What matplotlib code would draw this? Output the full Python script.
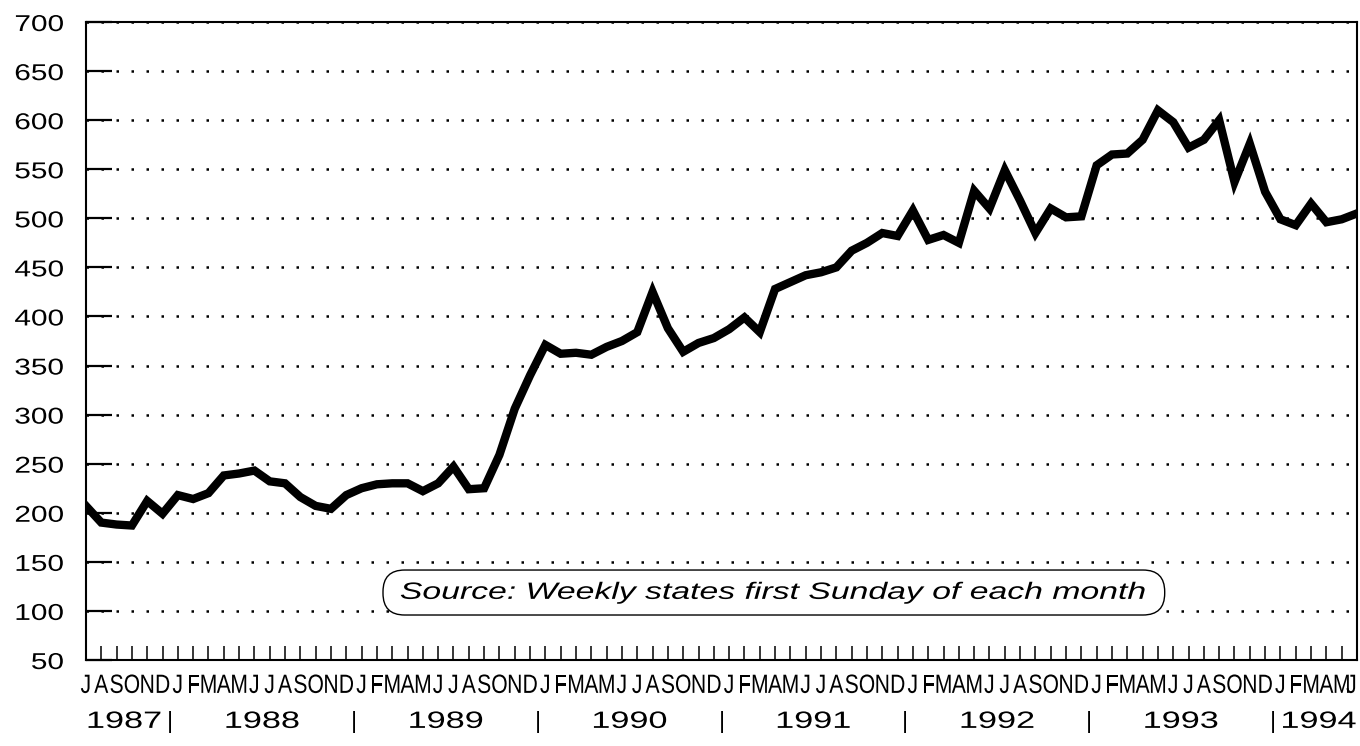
import matplotlib
matplotlib.use("Agg")
import matplotlib.pyplot as plt
import matplotlib.patheffects as pe
from matplotlib.transforms import Affine2D, blended_transform_factory
from matplotlib.patches import FancyBboxPatch
import pandas as pd

# monthly figures, July 1987 .. June 1994
months = pd.date_range("1987-07-01", periods=84, freq="MS")
month_letters = [m.strftime("%b")[0] for m in months]
values = [
    207, 190, 188, 187, 212, 199, 218, 214, 220, 238, 240, 243,   # 87/88
    232, 230, 216, 207, 204, 218, 225, 229, 230, 230, 222, 230,   # 88/89
    247, 224, 225, 259, 306, 340, 371, 362, 363, 361, 369, 375,   # 89/90
    384, 425, 388, 364, 373, 378, 387, 399, 384, 428, 435, 442,   # 90/91
    445, 450, 467, 475, 485, 482, 508, 478, 483, 475, 528, 510,   # 91/92
    549, 518, 485, 510, 501, 502, 554, 565, 566, 580, 610, 598,   # 92/93
    572, 580, 600, 537, 576, 527, 499, 493, 515, 496, 499, 505,   # 93/94
]
years = ["1987", "1988", "1989", "1990", "1991", "1992", "1993", "1994"]
y_ticks = list(range(50, 701, 50))
note = "Source: Weekly states first Sunday of each month"

plt.rcParams["font.family"] = ["Liberation Sans", "DejaVu Sans"]


class Stretch(pe.AbstractPathEffect):
    # widen/narrow glyphs horizontally around an anchor (0 left, .5 mid, 1 right)
    def __init__(self, sx, anchor=0.5):
        super().__init__()
        self.sx = sx
        self.anchor = anchor

    def draw_path(self, renderer, gc, tpath, affine, rgbFace=None):
        ext = tpath.get_extents()
        cx = ext.x0 + self.anchor * (ext.x1 - ext.x0)
        t = Affine2D().translate(-cx, 0).scale(self.sx, 1).translate(cx, 0) + affine
        renderer.draw_path(gc, tpath, t, rgbFace)


fig = plt.figure(figsize=(13.6, 7.46), dpi=100)
ax = fig.add_axes([0.0632, 0.1153, 0.9346, 0.8552])

x = list(range(len(values)))
ax.plot(x, values, color="black", lw=6, solid_joinstyle="miter", zorder=3)

ax.set_xlim(0, len(values) - 1)
ax.set_ylim(50, 700)
ax.set_yticks(y_ticks)
ax.set_xticks(x)
ax.set_xticklabels(month_letters)

ax.yaxis.grid(True, linestyle=(0, (1, 5)), linewidth=1.8, color="black")
ax.tick_params(axis="y", direction="in", length=19, width=1.6, labelsize=16.5, pad=16)
ax.tick_params(axis="x", direction="in", length=10, width=1.1, labelsize=19, pad=10)
for lab in ax.get_yticklabels():
    lab.set_path_effects([Stretch(1.3, 1.0)])
xlabs = ax.get_xticklabels()
for lab in xlabs:
    lab.set_path_effects([Stretch(0.8, 0.5)])
xlabs[-1].set_horizontalalignment("right")
xlabs[-1].set_path_effects([Stretch(0.8, 1.0)])

for s in ax.spines.values():
    s.set_linewidth(1.5)
    s.set_color("black")

# year row with separators at the Dec/Jan boundaries
tr = blended_transform_factory(ax.transData, ax.transAxes)
year_idx = {}
for i, m in enumerate(months):
    year_idx.setdefault(str(m.year), []).append(i)
for i, yr in enumerate(years):
    idx = year_idx[yr]
    ax.text((idx[0] + idx[-1]) / 2, -0.097, yr, transform=tr, ha="center", va="center",
            fontsize=17, path_effects=[Stretch(1.45, 0.5)], clip_on=False)
    if i > 0:
        ax.text(idx[0] - 0.5, -0.097, "|", transform=tr, ha="center", va="center",
                fontsize=17, clip_on=False)

# source note in rounded box
box = FancyBboxPatch((0.2337, 0.0705), 0.615, 0.0705, transform=ax.transAxes,
                     boxstyle="round,pad=0,rounding_size=0.017", mutation_aspect=1.99,
                     facecolor="white", edgecolor="black", linewidth=1.0, zorder=4)
ax.add_patch(box)
ax.text(0.541, 0.106, note, transform=ax.transAxes, ha="center", va="center",
        fontsize=17, style="italic", zorder=5, path_effects=[Stretch(1.43, 0.5)])

fig.savefig("out.png", dpi=100)
